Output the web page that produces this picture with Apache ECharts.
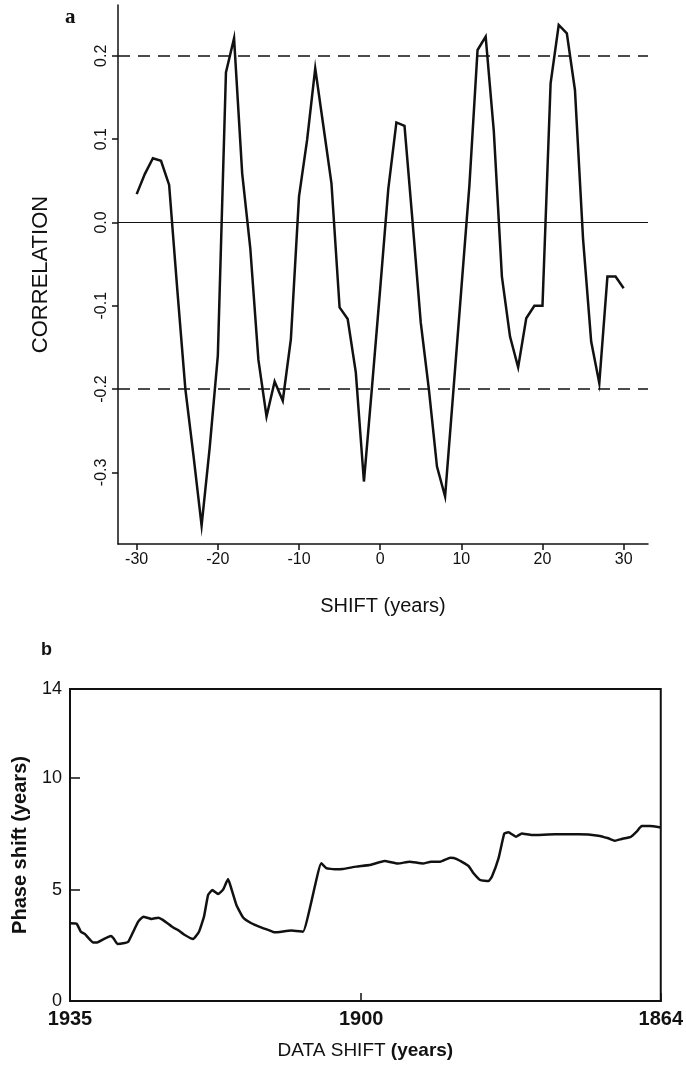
<!DOCTYPE html>
<html>
<head>
<meta charset="utf-8">
<script src="https://cdn.jsdelivr.net/npm/echarts@6/dist/echarts.min.js"></script>
<style>
  html, body { margin: 0; padding: 0; background: #fff; }
  #chart { width: 686px; height: 1068px; }
</style>
</head>
<body>
<div id="chart"></div>
<script>
// ---------- Panel a: correlation vs shift ----------
const shiftYears = [-30,-29,-28,-27,-26,-25,-24,-23,-22,-21,-20,-19,-18,-17,-16,-15,-14,-13,-12,-11,
  -10,-9,-8,-7,-6,-5,-4,-3,-2,-1,0,1,2,3,4,5,6,7,8,9,10,11,12,13,14,15,16,17,18,19,20,
  21,22,23,24,25,26,27,28,29,30];
const correlation = [0.034,0.058,0.077,0.074,0.045,-0.08,-0.2,-0.28,-0.364,-0.27,
  -0.16,0.18,0.221,0.059,-0.031,-0.165,-0.233,-0.191,-0.214,-0.14,
  0.031,0.099,0.185,0.116,0.047,-0.102,-0.116,-0.18,-0.311,-0.197,
  -0.08,0.04,0.12,0.116,0.0,-0.12,-0.2,-0.293,-0.329,-0.205,
  -0.08,0.045,0.207,0.223,0.11,-0.065,-0.137,-0.174,-0.115,-0.1,
  -0.1,0.167,0.237,0.227,0.159,-0.02,-0.143,-0.193,-0.065,-0.065,-0.079];
const shiftTicks = [-30,-20,-10,0,10,20,30];
const corrTicks = [-0.3,-0.2,-0.1,0,0.1,0.2];
const significance = [0.2, -0.2];
const zeroLine = [0];

// ---------- Panel b: phase shift vs data shift ----------
const dataShiftYear = [1935,1934.2,1933.7,1933.2,1932.2,1931.8,1931.0,1930.1,1929.8,1929.3,
  1928.6,1928.0,1927.4,1926.8,1926.2,1925.2,1924.4,1923.8,1922.6,1922.0,
  1921.2,1920.2,1919.5,1918.9,1918.4,1917.9,1917.2,1916.6,1916.0,1915.5,
  1915.0,1914.2,1913.2,1912.2,1911.1,1910.4,1908.4,1907.0,1904.8,1904.2,
  1903.2,1902.2,1900.6,1899.0,1897.2,1895.6,1894.2,1892.6,1891.6,1890.5,
  1889.3,1888.5,1887.1,1886.5,1885.7,1884.7,1884.3,1883.5,1882.8,1882.3,
  1881.4,1880.7,1879.5,1876.7,1873.9,1871.5,1870.3,1869.5,1868.7,1867.6,
  1866.9,1866.3,1865.3,1864];
const phaseShift = [3.49,3.47,3.11,3.0,2.62,2.62,2.77,2.92,2.83,2.56,
  2.59,2.66,3.11,3.56,3.78,3.68,3.74,3.63,3.30,3.18,
  2.96,2.78,3.11,3.78,4.76,4.98,4.80,5.0,5.47,4.91,
  4.31,3.75,3.49,3.33,3.18,3.08,3.16,3.11,6.18,5.96,
  5.91,5.92,6.03,6.10,6.28,6.17,6.25,6.17,6.25,6.25,
  6.43,6.37,6.06,5.73,5.43,5.38,5.58,6.40,7.52,7.57,
  7.37,7.52,7.45,7.48,7.48,7.42,7.30,7.19,7.27,7.37,
  7.60,7.85,7.85,7.79];
const phaseTicks = [0,5,10,14];
const yearTicks = [1935,1900,1864];

const FONT = 'Liberation Sans';
const INK = '#111';

const corrData = shiftYears.map((s, i) => [s, correlation[i]]);
const phaseData = dataShiftYear.map((y, i) => [y, phaseShift[i]]);

const chart = echarts.init(document.getElementById('chart'), null, { renderer: 'canvas' });

chart.setOption({
  backgroundColor: '#fff',
  animation: false,
  title: [
    { text: 'a', left: 60, top: 2, textStyle: { fontFamily: 'Liberation Serif', fontWeight: 'bold', fontSize: 21, color: INK } },
    { text: 'b', left: 36, top: 636, textStyle: { fontFamily: FONT, fontWeight: 'bold', fontSize: 18, color: INK } }
  ],
  grid: [
    { left: 118, right: 38, top: 5, height: 539, containLabel: false },
    { left: 70, right: 25, top: 689, height: 312, containLabel: false,
      show: true, borderColor: INK, borderWidth: 2, backgroundColor: 'transparent' }
  ],
  xAxis: [
    {
      gridIndex: 0, type: 'value', min: -32.3, max: 33,
      name: 'SHIFT (years)', nameLocation: 'middle', nameGap: 52,
      nameTextStyle: { fontFamily: FONT, fontSize: 20, color: INK },
      axisLine: { show: true, onZero: false, lineStyle: { color: INK, width: 1.5 } },
      axisTick: { show: true, inside: false, length: 6, customValues: shiftTicks, lineStyle: { color: INK, width: 1.5 } },
      axisLabel: { show: true, customValues: shiftTicks, margin: 8, fontFamily: FONT, fontSize: 16, color: INK },
      splitLine: { show: false }
    },
    {
      gridIndex: 1, type: 'value', min: 1864, max: 1935, inverse: true,
      name: '{r|DATA SHIFT }{b|(years)}', nameLocation: 'middle', nameGap: 40,
      nameTextStyle: { rich: {
        r: { fontFamily: FONT, fontSize: 19, color: INK },
        b: { fontFamily: FONT, fontSize: 19, fontWeight: 'bold', color: INK }
      } },
      axisLine: { show: true, onZero: false, lineStyle: { color: INK, width: 2 } },
      axisTick: { show: true, inside: true, length: 8, customValues: yearTicks, lineStyle: { color: INK, width: 1.5 } },
      axisLabel: { show: true, customValues: yearTicks, margin: 8, fontFamily: FONT, fontWeight: 'bold', fontSize: 20, color: INK,
        formatter: v => String(Math.round(v)) },
      splitLine: { show: false }
    }
  ],
  yAxis: [
    {
      gridIndex: 0, type: 'value', min: -0.386, max: 0.261,
      name: 'CORRELATION', nameLocation: 'middle', nameGap: 66,
      nameTextStyle: { fontFamily: FONT, fontSize: 22, color: INK },
      axisLine: { show: true, onZero: false, lineStyle: { color: INK, width: 1.5 } },
      axisTick: { show: true, inside: false, length: 6, customValues: corrTicks, lineStyle: { color: INK, width: 1.5 } },
      axisLabel: { show: true, customValues: corrTicks, rotate: 90, margin: 8, fontFamily: FONT, fontSize: 16, color: INK,
        formatter: v => v.toFixed(1) },
      splitLine: { show: false }
    },
    {
      gridIndex: 1, type: 'value', min: 0, max: 14,
      name: 'Phase shift (years)', nameLocation: 'middle', nameGap: 40,
      nameTextStyle: { fontFamily: FONT, fontSize: 20, fontWeight: 'bold', color: INK },
      axisLine: { show: true, onZero: false, lineStyle: { color: INK, width: 2 } },
      axisTick: { show: true, inside: true, length: 10, customValues: phaseTicks, lineStyle: { color: INK, width: 1.5 } },
      axisLabel: { show: true, customValues: phaseTicks, margin: 8, fontFamily: FONT, fontSize: 18, color: INK },
      splitLine: { show: false }
    }
  ],
  series: [
    {
      type: 'line', xAxisIndex: 0, yAxisIndex: 0, data: corrData,
      showSymbol: false, symbol: 'none', smooth: false,
      lineStyle: { color: INK, width: 2.5, join: 'miter' },
      markLine: {
        silent: true, symbol: 'none', label: { show: false },
        data: [
          ...zeroLine.map(v => ({ yAxis: v, lineStyle: { type: 'solid', width: 1.2, color: INK } })),
          ...significance.map(v => ({ yAxis: v, lineStyle: { type: [12, 8], width: 1.5, color: INK } }))
        ]
      }
    },
    {
      type: 'line', xAxisIndex: 1, yAxisIndex: 1, data: phaseData,
      showSymbol: false, symbol: 'none', smooth: 0.12,
      lineStyle: { color: INK, width: 2.5 }
    }
  ]
});
</script>
</body>
</html>
